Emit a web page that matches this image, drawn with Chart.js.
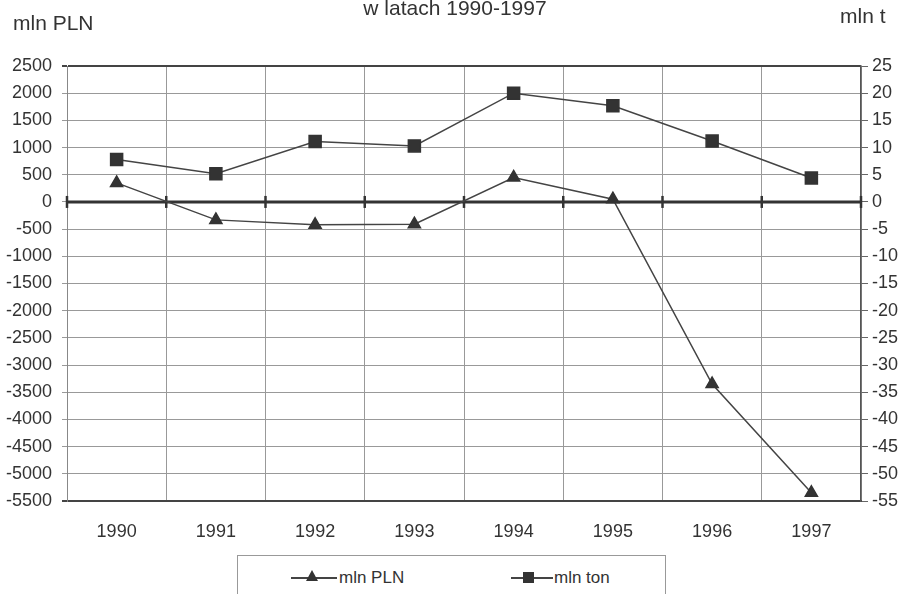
<!DOCTYPE html>
<html><head><meta charset="utf-8">
<script src="https://cdn.jsdelivr.net/npm/chart.js@4/dist/chart.umd.min.js"></script>
<style>
body{margin:0;background:#fff;font-family:'Liberation Sans',Arial,sans-serif;color:#333}
#wrap{position:relative;width:907px;height:594px;overflow:hidden;background:#fff}
#c{position:absolute;left:0;top:0}
.t{position:absolute;white-space:nowrap;color:#333;line-height:24px}
#legend{position:absolute;left:237px;top:555px;width:427px;height:60px;border:1px solid #999;background:#fff}
.ln{position:absolute;height:0;border-top:2px solid #444}
.tri{position:absolute;width:0;height:0;border-left:6px solid transparent;border-right:6px solid transparent;border-bottom:11px solid #333}
.sq{position:absolute;width:11px;height:11px;background:#333}
</style></head>
<body>
<div id="wrap">
<canvas id="c" width="907" height="594"></canvas>
<div class="t" style="left:0;width:910px;text-align:center;top:-4px;font-size:21px">w latach 1990-1997</div>
<div class="t" style="left:13px;top:11px;font-size:21px">mln PLN</div>
<div class="t" style="left:840px;top:4px;font-size:21px">mln t</div>
<div id="legend">
  <div class="ln" style="left:53px;top:21px;width:46px"></div>
  <div class="tri" style="left:68px;top:14px"></div>
  <div class="t" style="left:101px;top:10px;font-size:17px">mln PLN</div>
  <div class="ln" style="left:273px;top:21px;width:42px"></div>
  <div class="sq" style="left:285px;top:16px"></div>
  <div class="t" style="left:316px;top:10px;font-size:17px">mln ton</div>
</div>
</div>
<script>
const years = ['1990','1991','1992','1993','1994','1995','1996','1997'];
const mlnPLN = [350, -330, -420, -410, 450, 50, -3350, -5350];
const mlnTon = [7.8, 5.2, 11.1, 10.3, 20.0, 17.7, 11.2, 4.4];
const leftMin = -5500, leftMax = 2500, leftStep = 500;
const rightMin = -55, rightMax = 25, rightStep = 5;

const zeroTicks = {
  id: 'zeroTicks',
  beforeDatasetsDraw(chart) {
    const {ctx, chartArea} = chart;
    const y = chart.scales.y;
    const y0 = y.getPixelForValue(0);
    ctx.save();
    ctx.strokeStyle = '#333';
    ctx.lineWidth = 3;
    ctx.beginPath();
    ctx.moveTo(chartArea.left, y0); ctx.lineTo(chartArea.right, y0);
    ctx.stroke();
    ctx.lineWidth = 2.5;
    const n = years.length;
    const w = (chartArea.right - chartArea.left) / n;
    for (let i = 0; i <= n; i++) {
      const xp = chartArea.left + i * w;
      ctx.beginPath();
      ctx.moveTo(xp, y0 - 6); ctx.lineTo(xp, y0 + 6);
      ctx.stroke();
    }
    ctx.restore();
  }
};

const edge = v => v === leftMax || v === leftMin;

new Chart(document.getElementById('c'), {
  type: 'line',
  data: {
    labels: years,
    datasets: [
      {label: 'mln PLN', data: mlnPLN, yAxisID: 'y', borderColor: '#444', borderWidth: 1.5,
       pointStyle: 'triangle', pointRadius: 7, pointBackgroundColor: '#333', pointBorderColor: '#333', tension: 0},
      {label: 'mln ton', data: mlnTon, yAxisID: 'y1', borderColor: '#444', borderWidth: 1.5,
       pointStyle: 'rect', pointRadius: 8.5, pointBackgroundColor: '#333', pointBorderColor: '#333', tension: 0}
    ]
  },
  options: {
    responsive: false,
    animation: false,
    layout: {padding: {top: 66, right: 0, left: 0, bottom: 0}},
    plugins: {legend: {display: false}, tooltip: {enabled: false}},
    scales: {
      x: {
        offset: true,
        grid: {offset: true, drawTicks: false, color: '#999', lineWidth: 1},
        border: {display: true, color: '#444', width: 2},
        ticks: {padding: 20, color: '#333', font: {family: 'Liberation Sans', size: 18}, maxRotation: 0},
        afterFit(s) { s.height = 93; }
      },
      y: {
        position: 'left', min: leftMin, max: leftMax,
        ticks: {stepSize: leftStep, padding: 10, color: '#333', font: {family: 'Liberation Sans', size: 18},
                callback: v => String(v)},
        grid: {
          color: c => (c.tick && edge(c.tick.value)) ? '#444' : '#999',
          lineWidth: c => (c.tick && edge(c.tick.value)) ? 2 : 1,
          tickLength: 5
        },
        border: {display: true, color: '#888', width: 1},
        afterFit(s) { s.width = 67; }
      },
      y1: {
        position: 'right', min: rightMin, max: rightMax,
        ticks: {stepSize: rightStep, padding: 4, color: '#333', font: {family: 'Liberation Sans', size: 18},
                callback: v => String(v)},
        grid: {drawOnChartArea: false, tickLength: 7, color: '#666'},
        border: {display: true, color: '#555', width: 1.5},
        afterFit(s) { s.width = 46; }
      }
    }
  },
  plugins: [zeroTicks]
});
</script>
</body></html>
